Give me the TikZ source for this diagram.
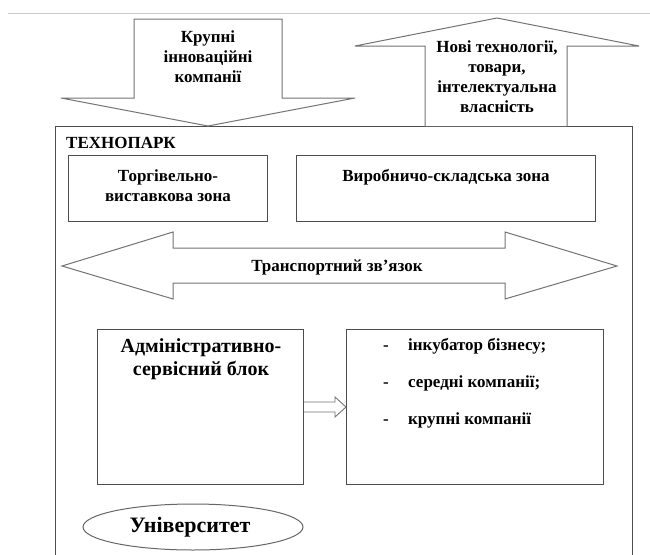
\documentclass[tikz,border=0pt]{standalone}
\usepackage{fontspec}
\setmainfont{Liberation Serif}
\usetikzlibrary{calc,shapes.geometric}

\tikzset{
  frameline/.style={draw=black!70, line width=1pt},
  blockarrow/.style={draw=black!55, line width=1pt, fill=white, line join=miter},
  zonebox/.style={frameline, fill=white, rectangle, inner sep=0pt, anchor=north west},
  txt/.style={font=\bfseries\fontsize{17}{20}\selectfont, align=center, inner sep=0pt},
  bigtxt/.style={font=\bfseries\fontsize{20}{23}\selectfont, align=center, inner sep=0pt},
  itemtxt/.style={font=\bfseries\fontsize{17}{20}\selectfont, inner sep=0pt, anchor=base west},
  dashtxt/.style={font=\bfseries\fontsize{17}{20}\selectfont, inner sep=0pt, anchor=base},
}

\begin{document}
\begin{tikzpicture}[x=1pt, y=-1pt]
\useasboundingbox (0,0) rectangle (650,554);

% thin rule along the top
\draw[black!20, line width=0.8pt] (8,13) -- (650,13);

% outer frame of the technopark
\draw[frameline] (55,560) -- (55,126) -- (632,126) -- (632,560);

% incoming block arrow
\draw[blockarrow] (134,19) -- (282,19) -- (282,98) -- (355,98) -- (208,126)
  -- (61,98) -- (134,98) -- cycle;
\node[txt] (inflow) at (208,57) {Крупні\\інноваційні\\компанії};

% outgoing block arrow
\draw[blockarrow] (425,126) -- (425,46) -- (355,46) -- (497,18) -- (639,46)
  -- (567,46) -- (567,126);
\node[txt] (outflow) at (497,77) {Нові технології,\\товари,\\інтелектуальна\\власність};

% title
\node[txt, anchor=west] (park) at (66,143) {ТЕХНОПАРК};

% zones
\node[zonebox, minimum width=199pt, minimum height=66pt] (trade) at (68,155) {};
\node[txt] (tradetxt) at (168,186) {Торгівельно-\\виставкова зона};
\node[zonebox, minimum width=299pt, minimum height=66pt] (prod) at (296,155) {};
\node[txt] (prodtxt) at (446,177) {Виробничо-складська зона};

% two-headed transport arrow
\draw[blockarrow] (62,266) -- (173,232) -- (173,248) -- (505,248) -- (505,232)
  -- (617,266) -- (505,299) -- (505,283) -- (173,283) -- (173,299) -- cycle;
\node[txt] (transport) at (337,267) {Транспортний зв’язок};

% administrative block and tenants
\node[zonebox, minimum width=206pt, minimum height=155pt] (admin) at (97,329) {};
\node[bigtxt] (admintxt) at (201,359) {Адміністративно-\\сервісний блок};
\node[zonebox, minimum width=257pt, minimum height=155pt] (list) at (346,329) {};

\node[dashtxt] (d1) at (386,350) {-};
\node[itemtxt] (l1) at (408,350) {інкубатор бізнесу;};
\node[dashtxt] (d2) at (386,387) {-};
\node[itemtxt] (l2) at (408,387) {середні компанії;};
\node[dashtxt] (d3) at (386,424) {-};
\node[itemtxt] (l3) at (408,424) {крупні компанії};

% hollow arrow from the block to the tenants
\coordinate (sa) at (admin.east |- 0,407);
\coordinate (sb) at (list.west |- 0,407);
\draw[blockarrow, line width=0.9pt] ($(sa)+(0,-5)$) -- ($(sb)+(-11,-5)$) -- ($(sb)+(-11,-10)$)
  -- (sb) -- ($(sb)+(-11,10)$) -- ($(sb)+(-11,5)$) -- ($(sa)+(0,5)$);

% university
\node[ellipse, draw=black!60, line width=1pt, minimum width=220pt, minimum height=46pt,
  inner sep=0pt] (uni) at (193,527) {};
\node[font=\bfseries\fontsize{22}{26}\selectfont, inner sep=0pt] (unitxt) at (190,527) {Університет};
\end{tikzpicture}
\end{document}
